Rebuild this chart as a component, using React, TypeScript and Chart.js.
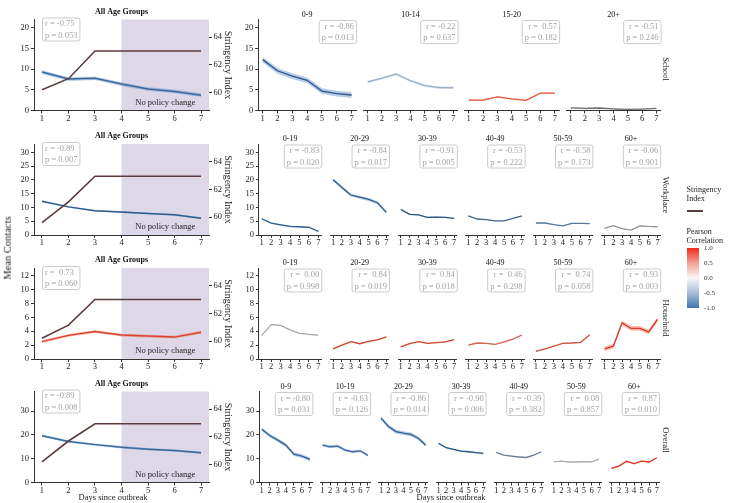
import React, { useEffect, useRef } from 'react';
import { Chart, registerables } from 'chart.js';
Chart.register(...registerables);

const FONT = "'Liberation Serif', 'Times New Roman', Times, serif";
Chart.defaults.font.family = FONT;

// ---------------- data ----------------
const DAYS = [1, 2, 3, 4, 5, 6, 7];
const SETTINGS = ['School', 'Workplace', 'Household', 'Overall'];

// All age groups (left column)
const allSchool = [9.3, 7.6, 7.8, 6.4, 5.2, 4.6, 3.7];
const allWorkplace = [12.2, 10.2, 8.8, 8.3, 7.8, 7.3, 6.1];
const allHousehold = [2.5, 3.4, 3.95, 3.45, 3.3, 3.15, 3.85];
const allOverall = [19.6, 17.2, 15.9, 14.8, 14.0, 13.4, 12.5];
const allR = [-0.75, -0.89, 0.73, -0.89];
const allP = [0.053, 0.007, 0.06, 0.008];
const allCI = [0.45, 0.3, 0.2, 0.5];

const stringencySchool = [60.2, 61.0, 63.0, 63.0, 63.0, 63.0, 63.0];
const stringencyWorkplace = [59.6, 61.1, 62.95, 62.95, 62.95, 62.95, 62.95];
const stringencyHousehold = [60.2, 61.15, 63.0, 63.0, 63.0, 63.0, 63.0];
const stringencyOverall = [60.2, 61.7, 62.95, 62.95, 62.95, 62.95, 62.95];
const stringencyTicks = [60, 62, 64];
const stringencyRange = [58.7, 65.28];

const schoolTicks = [0, 5, 10, 15, 20];
const workplaceTicks = [0, 5, 10, 15, 20, 25, 30];
const householdTicks = [0, 2, 4, 6, 8, 10, 12];
const overallTicks = [0, 5, 10, 15, 20, 25, 30, 35];
const rowMax = [22, 33, 13.1, 38.2];

// School by age
const schoolAges = ['0-9', '10-14', '15-20', '20+'];
const schoolR = [-0.86, -0.22, 0.57, -0.51];
const schoolP = [0.013, 0.637, 0.182, 0.246];
const schoolCI = [0.7, 0.3, 0.12, 0.08];
const schoolByAge = [
  [12.3, 9.6, 8.3, 7.3, 4.7, 4.1, 3.75],
  [6.9, 7.8, 8.8, 7.2, 6.0, 5.55, 5.5],
  [2.5, 2.5, 3.3, 2.8, 2.45, 4.2, 4.2],
  [0.65, 0.5, 0.6, 0.4, 0.25, 0.35, 0.5],
];

// Workplace by age
const workplaceAges = ['0-19', '20-29', '30-39', '40-49', '50-59', '60+'];
const workplaceR = [-0.83, -0.84, -0.91, -0.53, -0.58, -0.06];
const workplaceP = [0.02, 0.017, 0.005, 0.222, 0.173, 0.901];
const workplaceCI = [0.25, 0.55, 0.2, 0.1, 0.1, 0.1];
const workplaceByAge = [
  [5.9, 4.3, 3.7, 3.1, 3.0, 2.8, 1.3],
  [20.0, 17.2, 14.5, 13.7, 12.9, 11.7, 8.2],
  [9.3, 7.5, 7.3, 6.4, 6.5, 6.4, 6.0],
  [6.9, 5.8, 5.6, 5.1, 5.1, 6.0, 6.9],
  [4.35, 4.35, 3.75, 3.3, 4.2, 4.2, 4.1],
  [2.4, 3.4, 2.3, 1.8, 3.3, 3.1, 3.0],
];

// Household by age
const householdAges = ['0-19', '20-29', '30-39', '40-49', '50-59', '60+'];
const householdR = [0.0, 0.84, 0.84, 0.46, 0.74, 0.93];
const householdP = [0.998, 0.019, 0.018, 0.298, 0.058, 0.003];
const householdCI = [0.05, 0.08, 0.07, 0.07, 0.07, 0.35];
const householdByAge = [
  [3.4, 4.95, 4.85, 4.2, 3.7, 3.55, 3.45],
  [1.45, 2.0, 2.5, 2.2, 2.55, 2.75, 3.2],
  [1.75, 2.2, 2.5, 2.25, 2.35, 2.45, 2.8],
  [2.0, 2.3, 2.25, 2.1, 2.45, 2.85, 3.45],
  [1.1, 1.45, 1.85, 2.25, 2.3, 2.4, 3.5],
  [1.45, 1.85, 5.2, 4.4, 4.4, 3.9, 5.7],
];

// Overall by age
const overallAges = ['0-9', '10-19', '20-29', '30-39', '40-49', '50-59', '60+'];
const overallR = [-0.8, -0.63, -0.86, -0.9, -0.39, 0.08, 0.87];
const overallP = [0.031, 0.126, 0.014, 0.006, 0.382, 0.857, 0.01];
const overallCI = [0.8, 0.6, 0.8, 0.3, 0.2, 0.2, 0.3];
const overallByAge = [
  [22.4, 19.7, 17.8, 15.7, 11.9, 11.1, 9.7],
  [15.7, 15.0, 15.3, 13.6, 12.9, 13.3, 11.4],
  [27.0, 23.5, 21.4, 20.7, 20.2, 18.6, 15.7],
  [16.4, 14.6, 13.9, 13.2, 12.9, 12.5, 12.2],
  [12.6, 11.5, 11.1, 10.7, 10.5, 11.5, 12.9],
  [8.7, 9.0, 8.6, 8.6, 8.7, 8.7, 9.8],
  [5.9, 6.9, 8.9, 7.9, 9.0, 8.6, 10.4],
];

const colorbarTicks = ['1.0', '0.5', '0.0', '-0.5', '-1.0'];

// ---------------- styles / layout ----------------
const STRINGENCY_COLOR = '#5c3c3c';
const SHADE_COLOR = '#ddd7e8';
const AXIS_COLOR = '#333333';
const allColors = ['#3b6a9a', '#2f5e8e', '#d8452b', '#3b6a9a'];
const schoolColors = ['#2b5686', '#9cb0c8', '#e0573a', '#6b6b6b'];
const workplaceColors = ['#2f5e8e', '#2f5e8e', '#2b5886', '#44678e', '#5a7896', '#8f9499'];
const householdColors = ['#a9a9a9', '#d0462c', '#d0462c', '#cf6a57', '#d2563f', '#d63a26'];
const overallColors = ['#33639a', '#3f6d9c', '#2f5e8e', '#2b5886', '#6a7f98', '#b0b0b0', '#de3a27'];

const ROW_TOP = [19.5, 144, 268, 391.5];
const ROW_H = 91;
const LEFT_X = 34;
const LEFT_W = 175;
const RIGHT_X0 = [258.2, 258.9, 258.9, 259.3];
const RIGHT_PITCH = [101.5, 67.8, 67.8, 57.8];
const RIGHT_W = [97.9, 62.3, 62.3, 53];

function bandFor(r: number) {
  if (r <= -0.3) return 'rgba(95,145,205,0.45)';
  if (r >= 0.3) return 'rgba(245,95,75,0.42)';
  return 'rgba(160,178,200,0.35)';
}

type Cfg = {
  key: string;
  area: { left: number; top: number; width: number; height: number };
  padL: number; padR: number; padT: number; padB: number;
  values: number[]; ci: number; color: string; band: string; lineWidth: number;
  yMax: number; yTicks: number[] | null;
  stringency: number[] | null;
  title: string; titleBold: boolean; titleGap: number;
  r: number; p: number; boxSide: 'left' | 'right';
  shade: boolean;
};

function geometry(c: Cfg) {
  const cx = Math.floor(c.area.left - c.padL);
  const cy = Math.floor(c.area.top - c.padT);
  const innerL = c.area.left - cx;
  const innerT = c.area.top - cy;
  const cw = Math.ceil(innerL + c.area.width + c.padR);
  const ch = Math.ceil(innerT + c.area.height + c.padB);
  return { cx, cy, cw, ch, innerL, innerT, rightSpace: cw - innerL - c.area.width, bottomSpace: ch - innerT - c.area.height };
}

const fmtR = (r: number) => (r >= 0 ? ' ' + r.toFixed(2) : r.toFixed(2));

function makeChart(canvas: HTMLCanvasElement, cfg: Cfg, geo: ReturnType<typeof geometry>) {
  const pts = (arr: number[]) => arr.map((v, i) => ({ x: DAYS[i], y: v }));
  const datasets: any[] = [];
  if (cfg.ci > 0) {
    datasets.push({ data: pts(cfg.values.map((v) => v - cfg.ci)), borderColor: 'rgba(0,0,0,0)', borderWidth: 0, pointRadius: 0, fill: false, order: 3 });
    datasets.push({ data: pts(cfg.values.map((v) => v + cfg.ci)), borderColor: 'rgba(0,0,0,0)', borderWidth: 0, pointRadius: 0, fill: '-1', backgroundColor: cfg.band, order: 3 });
  }
  datasets.push({ data: pts(cfg.values), borderColor: cfg.color, borderWidth: cfg.lineWidth, pointRadius: 0, fill: false, order: 2 });
  if (cfg.stringency) {
    datasets.push({ data: pts(cfg.stringency), yAxisID: 'y2', borderColor: STRINGENCY_COLOR, borderWidth: 1.6, pointRadius: 0, fill: false, order: 1 });
  }

  const tickFont = { family: FONT, size: 8.5 };
  const grid = { display: true, drawOnChartArea: false, drawTicks: true, tickLength: 3, color: AXIS_COLOR, lineWidth: 1 };

  const scales: any = {
    x: {
      type: 'linear', min: 0.7, max: 7.3,
      afterBuildTicks: (s: any) => { s.ticks = DAYS.map((v) => ({ value: v })); },
      afterFit: (s: any) => { s.height = geo.bottomSpace; s.paddingLeft = 0; s.paddingRight = 0; },
      grid, border: { display: true, color: AXIS_COLOR, width: 1 },
      ticks: { font: tickFont, color: '#222', padding: 0, maxRotation: 0, minRotation: 0, autoSkip: false },
    },
    y: {
      type: 'linear', position: 'left', min: 0, max: cfg.yMax, display: !!cfg.yTicks,
      afterBuildTicks: (s: any) => { if (cfg.yTicks) s.ticks = cfg.yTicks.map((v) => ({ value: v })); },
      afterFit: (s: any) => { s.width = geo.innerL; s.paddingTop = 0; s.paddingBottom = 0; },
      grid, border: { display: true, color: AXIS_COLOR, width: 1 },
      ticks: { font: tickFont, color: '#222', padding: 2 },
    },
  };
  if (cfg.stringency) {
    scales.y2 = {
      type: 'linear', position: 'right', min: stringencyRange[0], max: stringencyRange[1],
      afterBuildTicks: (s: any) => { s.ticks = stringencyTicks.map((v) => ({ value: v })); },
      afterFit: (s: any) => { s.width = geo.rightSpace; s.paddingTop = 0; s.paddingBottom = 0; },
      grid, border: { display: false },
      ticks: { font: tickFont, color: '#222', padding: 1.5 },
      title: { display: true, text: 'Stringency Index', font: { family: FONT, size: 10 }, color: '#222', padding: 0 },
    };
  }

  const deco = {
    id: 'deco',
    beforeDraw(chart: any) {
      if (!cfg.shade) return;
      const { ctx, chartArea: a, scales: sc } = chart;
      const x0 = sc.x.getPixelForValue(4);
      ctx.save();
      ctx.fillStyle = SHADE_COLOR;
      ctx.fillRect(x0, a.top, a.right - x0, a.bottom - a.top);
      ctx.fillStyle = '#222';
      ctx.font = `8.5px ${FONT}`;
      ctx.textAlign = 'center';
      ctx.textBaseline = 'middle';
      ctx.fillText('No policy change', (x0 + a.right) / 2, a.bottom - 7.8);
      ctx.restore();
    },
    afterDraw(chart: any) {
      const { ctx, chartArea: a } = chart;
      ctx.save();
      ctx.fillStyle = '#111';
      ctx.font = `${cfg.titleBold ? 'bold ' : ''}8px ${FONT}`;
      ctx.textAlign = 'center';
      ctx.textBaseline = 'middle';
      ctx.fillText(cfg.title, (a.left + a.right) / 2, a.top - cfg.titleGap);

      const l1 = `r = ${fmtR(cfg.r)}`;
      const l2 = `p = ${cfg.p.toFixed(3)}`;
      ctx.font = `8.5px ${FONT}`;
      const w = Math.max(ctx.measureText(l1).width, ctx.measureText(l2).width) + 5;
      const h = 23;
      const bx = cfg.boxSide === 'left' ? a.left + 8.5 : a.right + 0.5 - w;
      const by = cfg.boxSide === 'left' ? a.top - 1.5 : a.top + 1;
      ctx.strokeStyle = '#cbcbcb';
      ctx.lineWidth = 1;
      ctx.beginPath();
      if ((ctx as any).roundRect) (ctx as any).roundRect(bx, by, w, h, 2);
      else ctx.rect(bx, by, w, h);
      ctx.stroke();
      ctx.fillStyle = '#a3a3a3';
      ctx.textAlign = cfg.boxSide === 'left' ? 'left' : 'right';
      const tx = cfg.boxSide === 'left' ? bx + 2.5 : bx + w - 2.5;
      ctx.fillText(l1, tx, by + 6);
      ctx.fillText(l2, tx, by + 17.5);
      ctx.restore();
    },
  };

  return new Chart(canvas, {
    type: 'line',
    data: { datasets },
    options: {
      animation: false,
      responsive: false,
      maintainAspectRatio: false,
      devicePixelRatio: 1,
      layout: {
        padding: {
          left: cfg.yTicks ? 0 : geo.innerL,
          right: cfg.stringency ? 0 : geo.rightSpace,
          top: geo.innerT,
          bottom: 0,
        },
      },
      plugins: { legend: { display: false }, tooltip: { enabled: false }, title: { display: false } },
      elements: { line: { tension: 0 } },
      scales,
    } as any,
    plugins: [deco],
  });
}

function Panel({ cfg }: { cfg: Cfg }) {
  const ref = useRef<HTMLCanvasElement>(null);
  const geo = geometry(cfg);
  useEffect(() => {
    const chart = makeChart(ref.current as HTMLCanvasElement, cfg, geo);
    return () => chart.destroy();
  }, []);
  return (
    <canvas
      ref={ref}
      width={geo.cw}
      height={geo.ch}
      style={{ position: 'absolute', left: geo.cx, top: geo.cy, width: geo.cw, height: geo.ch }}
    />
  );
}

// ---------------- build panel configs ----------------
const allValues = [allSchool, allWorkplace, allHousehold, allOverall];
const allStringency = [stringencySchool, stringencyWorkplace, stringencyHousehold, stringencyOverall];
const rowTicks = [schoolTicks, workplaceTicks, householdTicks, overallTicks];
const rowAges = [schoolAges, workplaceAges, householdAges, overallAges];
const rowR = [schoolR, workplaceR, householdR, overallR];
const rowP = [schoolP, workplaceP, householdP, overallP];
const rowCI = [schoolCI, workplaceCI, householdCI, overallCI];
const rowVals = [schoolByAge, workplaceByAge, householdByAge, overallByAge];
const rowColors = [schoolColors, workplaceColors, householdColors, overallColors];

const panels: Cfg[] = [];
SETTINGS.forEach((setting, r) => {
  panels.push({
    key: `all-${setting}`,
    area: { left: LEFT_X, top: ROW_TOP[r], width: LEFT_W, height: ROW_H },
    padL: 30, padR: 25, padT: 14, padB: 15,
    values: allValues[r], ci: allCI[r], color: allColors[r], band: bandFor(allR[r]), lineWidth: 1.5,
    yMax: rowMax[r], yTicks: rowTicks[r], stringency: allStringency[r],
    title: 'All Age Groups', titleBold: true, titleGap: 8,
    r: allR[r], p: allP[r], boxSide: 'left', shade: true,
  });
  rowAges[r].forEach((age, i) => {
    panels.push({
      key: `${setting}-${age}`,
      area: { left: RIGHT_X0[r] + i * RIGHT_PITCH[r], top: ROW_TOP[r], width: RIGHT_W[r], height: ROW_H },
      padL: i === 0 ? 18 : 3, padR: 3, padT: 11, padB: 15,
      values: rowVals[r][i], ci: rowCI[r][i], color: rowColors[r][i], band: bandFor(rowR[r][i]), lineWidth: 1.3,
      yMax: rowMax[r], yTicks: i === 0 ? rowTicks[r] : null, stringency: null,
      title: age, titleBold: false, titleGap: 5,
      r: rowR[r][i], p: rowP[r][i], boxSide: 'right', shade: false,
    });
  });
});

const FACET_Y = [69, 195, 318, 440];

function Txt({ x, y, text, size, rotate = 0, align = 'center', color = '#222' }: any) {
  const tx = align === 'left' ? '0' : '-50%';
  return (
    <div
      style={{
        position: 'absolute', left: x, top: y, fontSize: size, lineHeight: 1, color,
        whiteSpace: 'nowrap', fontFamily: FONT, fontWeight: 'normal',
        transform: `translate(${tx},-50%) rotate(${rotate}deg)`,
      }}
    >
      {text}
    </div>
  );
}

export default function App() {
  return (
    <div style={{ position: 'absolute', left: 0, top: 0, width: 740, height: 503, background: '#fff', overflow: 'hidden', fontFamily: FONT }}>
      {panels.map((c) => <Panel key={c.key} cfg={c} />)}
      <Txt x={7.5} y={248} text="Mean Contacts" size={10.5} rotate={-90} />
      <Txt x={113} y={496.5} text="Days since outbreak" size={8.5} />
      <Txt x={451} y={496.5} text="Days since outbreak" size={8.5} />
      {SETTINGS.map((s, r) => <Txt key={s} x={666} y={FACET_Y[r]} text={s} size={8.5} rotate={90} />)}
      <Txt x={686.5} y={190} text="Stringency" size={8} align="left" />
      <Txt x={686.5} y={198.5} text="Index" size={8} align="left" />
      <div style={{ position: 'absolute', left: 686.5, top: 210, width: 16, height: 2, background: STRINGENCY_COLOR }} />
      <Txt x={686.5} y={232} text="Pearson" size={8} align="left" />
      <Txt x={686.5} y={240.5} text="Correlation" size={8} align="left" />
      <div
        style={{
          position: 'absolute', left: 686.7, top: 248.3, width: 12.6, height: 60,
          background: 'linear-gradient(to bottom, #f2271c 0%, #f4a196 25%, #f8f6f6 50%, #a9bdd8 75%, #3f76ae 100%)',
        }}
      />
      {colorbarTicks.map((t, i) => (
        <Txt key={t} x={704} y={248.3 + i * 15} text={t} size={7} align="left" color="#333" />
      ))}
    </div>
  );
}
